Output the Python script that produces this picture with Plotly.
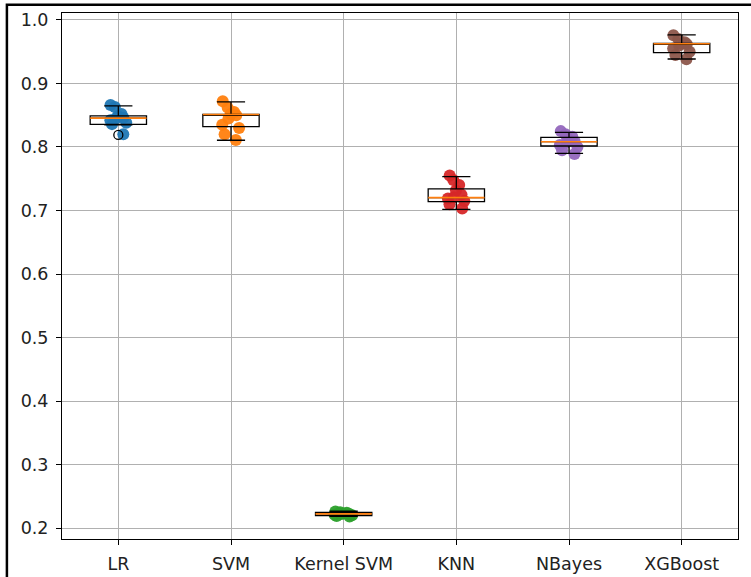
import plotly.graph_objects as go

categories = ["LR", "SVM", "Kernel SVM", "KNN", "NBayes", "XGBoost"]
colors = ["#1f77b4", "#ff7f0e", "#2ca02c", "#d62728", "#9467bd", "#8c564b"]

# individual fold scores
lr_scores = [0.866, 0.863, 0.852, 0.849, 0.846, 0.845, 0.842, 0.838, 0.836, 0.820]
svm_scores = [0.872, 0.862, 0.855, 0.852, 0.850, 0.845, 0.835, 0.830, 0.820, 0.811]
ksvm_scores = [0.226, 0.225, 0.224, 0.223, 0.222, 0.222, 0.221, 0.220, 0.219, 0.218]
knn_scores = [0.755, 0.748, 0.740, 0.732, 0.725, 0.721, 0.719, 0.715, 0.710, 0.703]
nb_scores = [0.825, 0.820, 0.816, 0.812, 0.809, 0.807, 0.803, 0.800, 0.795, 0.789]
xgb_scores = [0.976, 0.970, 0.965, 0.963, 0.962, 0.960, 0.955, 0.950, 0.945, 0.938]
scores = [lr_scores, svm_scores, ksvm_scores, knn_scores, nb_scores, xgb_scores]

# box statistics
q1 = [0.8357, 0.8320, 0.2195, 0.7139, 0.8016, 0.9485]
median = [0.8455, 0.8512, 0.2222, 0.7202, 0.8083, 0.9625]
q3 = [0.8490, 0.8515, 0.2245, 0.7339, 0.8153, 0.9633]
lower_whisker = [0.8350, 0.8106, 0.2185, 0.7019, 0.7900, 0.9386]
upper_whisker = [0.8646, 0.8710, 0.2265, 0.7532, 0.8231, 0.9764]
outlier_cat = [1]
outlier_val = [0.819]

positions = list(range(1, len(categories) + 1))
box_w = 0.5

fig = go.Figure()

# jittered scatter points (drawn first, below the boxes)
for pos, vals, col in zip(positions, scores, colors):
    fig.add_trace(go.Box(
        x=[pos] * len(vals), y=vals,
        boxpoints="all", jitter=0.4, pointpos=0, width=box_w,
        line=dict(width=0, color="rgba(0,0,0,0)"),
        fillcolor="rgba(0,0,0,0)",
        marker=dict(color=col, size=12, opacity=0.95, line=dict(width=0)),
        showlegend=False, hoverinfo="y",
    ))

# box plots
for i, pos in enumerate(positions):
    fig.add_trace(go.Box(
        x=[pos], q1=[q1[i]], median=[median[i]], q3=[q3[i]],
        lowerfence=[lower_whisker[i]], upperfence=[upper_whisker[i]],
        width=box_w, whiskerwidth=0.5, boxpoints=False,
        line=dict(color="black", width=1.3),
        fillcolor="rgba(0,0,0,0)", showlegend=False,
    ))

# orange median lines
for i, pos in enumerate(positions):
    fig.add_trace(go.Scatter(
        x=[pos - box_w / 2, pos + box_w / 2], y=[median[i], median[i]],
        mode="lines", line=dict(color="#ff7f0e", width=1.6),
        showlegend=False, hoverinfo="skip",
    ))

# flier
fig.add_trace(go.Scatter(
    x=outlier_cat, y=outlier_val, mode="markers",
    marker=dict(symbol="circle-open", size=9, color="black", line=dict(width=1.3)),
    showlegend=False,
))

axis_common = dict(
    showgrid=True, gridcolor="#b0b0b0", gridwidth=1,
    showline=True, linecolor="black", linewidth=1, mirror=True,
    ticks="outside", ticklen=5, tickcolor="black", tickwidth=1,
    zeroline=False, automargin=False,
    tickfont=dict(family="DejaVu Sans", size=17.5, color="#222222"),
)

fig.update_layout(
    width=751, height=577,
    margin=dict(l=62, r=13, t=13, b=38),
    paper_bgcolor="white", plot_bgcolor="white",
    boxmode="overlay",
    xaxis=dict(range=[0.5, 6.5], tickvals=positions, ticktext=categories,
               ticklabelstandoff=4, **axis_common),
    yaxis=dict(range=[0.1827, 1.011], tickvals=[0.2, 0.3, 0.4, 0.5, 0.6, 0.7, 0.8, 0.9, 1.0],
               tickformat=".1f", ticklabelstandoff=4, **axis_common),
    shapes=[dict(type="rect", xref="paper", yref="paper",
                 x0=-0.0815, x1=1.05, y0=-0.2, y1=1.0155,
                 line=dict(color="black", width=2.5), fillcolor="rgba(0,0,0,0)")],
)

fig.write_html("out.html", config={"displayModeBar": False},
               post_script="document.body.style.margin='0';document.body.style.padding='0';")
